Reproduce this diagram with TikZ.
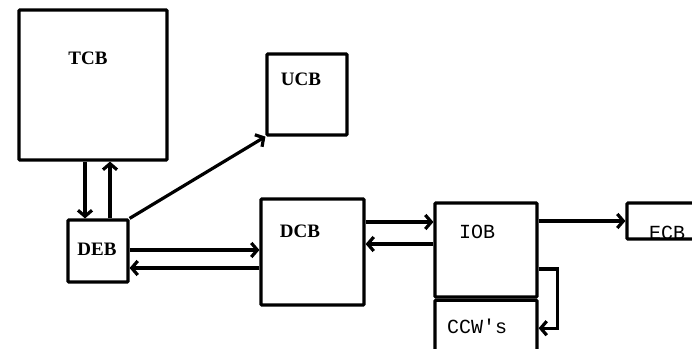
\documentclass[tikz,border=0pt]{standalone}
\usepackage{fontspec}
\setmainfont{Liberation Serif}
\setmonofont{Liberation Mono}
\usetikzlibrary{positioning}
\usetikzlibrary{arrows.meta}

\tikzset{
	blk/.style = {draw, line width = 3.2pt, rounded corners = 1pt, inner sep = 0pt},
	arr/.style = {line width = 3.2pt, -{Straight Barb[length = 6pt, width = 14pt]}},
	serlbl/.style = {font = \fontsize{19}{19}\selectfont\bfseries, inner sep = 0pt},
	ttlbl/.style = {font = \fontsize{20}{20}\selectfont\ttfamily, inner sep = 0pt}
}

\begin{document}
\begin{tikzpicture}[x = 1pt, y = -1pt]
			\useasboundingbox (0,0) rectangle (692,348);
			\clip (0,0) rectangle (692,348);
			\fill[white] (0,0) rectangle (692,348);
			% boxes
			\node[blk, minimum width = 148pt, minimum height = 150pt] (tcb) at (93,85) {};
			\node[blk, minimum width = 60pt, minimum height = 62pt] (deb) at (98,251) {};
			\node[blk, minimum width = 80pt, minimum height = 81pt] (ucb) at (307,94.5) {};
			\node[blk, minimum width = 103pt, minimum height = 106pt] (dcb) at (312.5,252) {};
			\node[blk, minimum width = 102pt, minimum height = 94pt] (iob) at (486,250) {};
			\node[blk, minimum width = 102pt, minimum height = 66pt, below = 0pt of iob] (ccw) {};
			\node[blk, minimum width = 93pt, minimum height = 36pt,
				path picture = {\node[ttlbl] (ecbtext) at ([xshift = -6.5pt, yshift = -12pt]path picture bounding box.center) {ECB};}] (ecb) at (673.5,221) {};
			% labels
			\node[serlbl] (tcbtext) at (88,58) {TCB};
			\node[serlbl] (debtext) at (97,249) {DEB};
			\node[serlbl] (ucbtext) at (301,79) {UCB};
			\node[serlbl] (dcbtext) at (300,231) {DCB};
			\node[ttlbl] (iobtext) at (477,232) {IOB};
			\node[ttlbl] (ccwtext) at (477,326) {CCW's};
			% connectors
			\coordinate (debdown) at ([xshift = -13pt]deb.north);
			\coordinate (debup) at ([xshift = 12pt]deb.north);
			\draw[arr] (debdown |- tcb.south) -- (debdown);
			\draw[arr] (debup) -- (debup |- tcb.south);
			\draw[arr] (deb.north east) -- (ucb.south west);
			\coordinate (debin) at ([yshift = -17pt]deb.east);
			\draw[arr] ([yshift = 1pt]deb.east) -- ([yshift = 1pt]deb.east -| dcb.west);
			\draw[arr] (debin -| dcb.west) -- (debin);
			\coordinate (iobin) at ([yshift = 28pt]iob.west);
			\coordinate (iobout) at ([yshift = 6pt]iob.west);
			\draw[arr] (iobin -| dcb.east) -- (iobin);
			\draw[arr] (iobout) -- (iobout -| dcb.east);
			\draw[arr] (iob.east |- ecb.west) -- (ecb.west);
			\draw[arr] ([yshift = -19pt]iob.east) -- ++(19,0) |- ([yshift = 5pt]ccw.east);
		\end{tikzpicture}
\end{document}
